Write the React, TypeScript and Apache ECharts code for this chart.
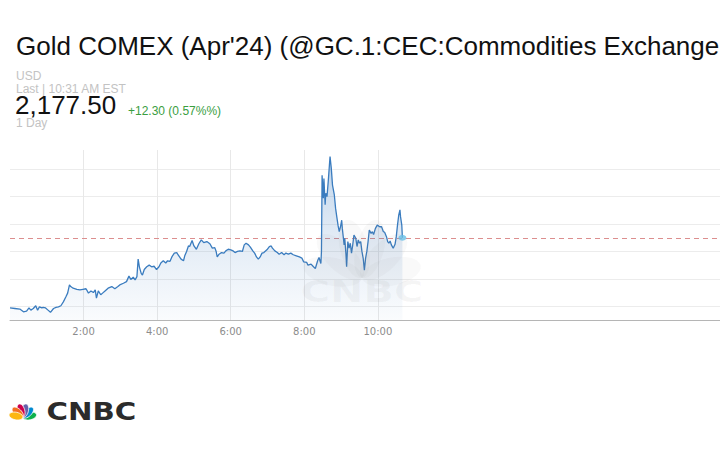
import React, { useEffect, useRef } from "react";
import * as echarts from "echarts";

// ---- header texts ----
const titleText = "Gold COMEX (Apr'24) (@GC.1:CEC:Commodities Exchange";
const currencyText = "USD";
const lastText = "Last | 10:31 AM EST";
const priceText = "2,177.50";
const changeText = "+12.30 (0.57%%)";
const rangeText = "1 Day";

// ---- data: minutes after midnight and price ----
const minutes = [
  0, 8, 16, 22, 27, 31, 34, 38, 42, 45,
  48, 52, 54, 58, 62, 66, 71, 75, 79, 83,
  87, 91, 94, 97, 99, 103, 109, 114, 119, 124,
  128, 132, 136, 139, 141, 144, 148, 151, 155, 160,
  166, 171, 176, 179, 185, 190, 194, 197, 201, 204,
  207, 209, 211, 214, 216, 219, 223, 227, 231, 235,
  239, 243, 246, 250, 254, 257, 261, 264, 268, 272,
  274, 279, 283, 285, 288, 291, 293, 297, 300, 304,
  308, 312, 316, 321, 326, 330, 334, 336, 338, 341,
  345, 349, 352, 356, 360, 364, 367, 371, 375, 379,
  382, 385, 389, 392, 396, 399, 402, 405, 408, 411,
  414, 419, 423, 426, 428, 432, 436, 439, 443, 447,
  450, 454, 458, 462, 467, 472, 476, 479, 484, 486,
  491, 495, 498, 502, 504, 507, 508, 509, 511, 512,
  514, 515, 517, 519, 521, 522, 524, 526, 529, 531,
  533, 535, 537, 539, 541, 542, 545, 546, 548, 549,
  551, 553, 555, 557, 559, 561, 564, 566, 568, 570,
  572, 574, 576, 578, 580, 582, 584, 586, 589, 591,
  593, 596, 599, 603, 606, 609, 611, 614, 616, 618,
  620, 622, 625, 628, 630, 632, 634, 636, 637, 639,
  640,
];

const prices = [
  2164.7, 2164.6, 2164.5, 2164.0, 2164.1, 2164.7, 2164.3, 2164.6, 2165.1, 2164.3,
  2164.9, 2164.7, 2164.8, 2164.7, 2164.3, 2163.9, 2164.6, 2164.8, 2164.9, 2165.1,
  2165.8, 2166.7, 2167.4, 2168.9, 2168.6, 2168.3, 2168.1, 2168.0, 2168.1, 2168.2,
  2167.4, 2167.8, 2167.5, 2168.0, 2166.5, 2167.8, 2167.1, 2167.4, 2167.8, 2168.3,
  2168.6, 2168.2, 2168.6, 2168.9, 2169.2, 2169.5, 2170.5, 2169.9, 2170.3, 2169.8,
  2170.4, 2173.6, 2172.2, 2171.0, 2170.7, 2171.7, 2172.2, 2172.5, 2172.2, 2172.3,
  2171.7, 2172.2, 2172.9, 2173.3, 2172.9, 2173.3, 2173.2, 2174.0, 2174.7, 2174.8,
  2174.4, 2173.6, 2173.3, 2174.2, 2175.0, 2176.0, 2175.9, 2177.0, 2176.0, 2175.4,
  2176.4, 2177.1, 2176.6, 2176.8, 2176.4, 2175.6, 2175.7, 2175.1, 2174.0, 2174.5,
  2174.8, 2174.7, 2175.1, 2175.4, 2175.3, 2175.1, 2174.8, 2175.0, 2175.1, 2175.0,
  2176.2, 2176.5, 2176.2, 2175.8, 2175.1, 2174.7, 2174.0, 2173.6, 2174.0, 2174.7,
  2174.8, 2175.3, 2175.9, 2176.0, 2175.6, 2175.1, 2174.8, 2174.5, 2174.8, 2174.4,
  2174.7, 2174.5, 2174.7, 2174.4, 2174.2, 2174.0, 2173.8, 2173.1, 2173.0, 2172.5,
  2172.7, 2172.2, 2171.9, 2173.4, 2173.9, 2172.8, 2175.0, 2188.9, 2184.7, 2188.3,
  2183.5, 2185.6, 2185.0, 2187.7, 2190.8, 2192.3, 2190.2, 2187.1, 2185.3, 2182.9,
  2181.3, 2179.8, 2178.6, 2179.5, 2180.7, 2179.2, 2176.2, 2177.4, 2174.4, 2172.2,
  2176.8, 2175.6, 2176.5, 2174.7, 2176.2, 2178.0, 2177.4, 2175.9, 2177.1, 2176.5,
  2176.8, 2175.0, 2173.8, 2171.6, 2173.8, 2175.0, 2176.8, 2178.9, 2178.3, 2178.6,
  2178.1, 2179.2, 2179.8, 2179.5, 2179.5, 2178.6, 2178.5, 2177.7, 2176.8, 2176.5,
  2176.9, 2176.2, 2175.6, 2176.3, 2177.7, 2179.8, 2181.6, 2182.6, 2181.3, 2179.8,
  2177.5,
];

const lastPrice = 2177.5;
const xAxisMin = 0;
const xAxisMax = 1158; // full visible day span in minutes
const labelAxisMax = 600; // ticks shown up to 10:00
const labelInterval = 120;
const yMin = 2162.5;
const yMax = 2193.5;

// CNBC peacock feathers
const featherColors = ["#0db14b", "#0089d0", "#6460aa", "#cc004c", "#f37021", "#fcb711"];
const featherAngles = [12, 44, 75, 105, 136, 168];

function featherPoints(cx: number, cy: number, angleDeg: number, d: number, rx: number, ry: number) {
  const th = (angleDeg * Math.PI) / 180;
  const pts: number[][] = [];
  const n = 28;
  for (let k = 0; k < n; k++) {
    const t = (2 * Math.PI * k) / n;
    const lx = d + rx * Math.cos(t);
    const ly = ry * Math.sin(t);
    pts.push([cx + lx * Math.cos(th) - ly * Math.sin(th), cy - (lx * Math.sin(th) + ly * Math.cos(th))]);
  }
  return pts;
}

function peacock(cx: number, cy: number, d: number, rx: number, ry: number, fills: string[], stroke: string | null, z: number) {
  return featherAngles.map((a, i) => ({
    type: "polygon",
    z,
    silent: true,
    shape: { points: featherPoints(cx, cy, a, d, rx, ry) },
    style: stroke ? { fill: fills[i], stroke, lineWidth: 0.8 } : { fill: fills[i] },
  }));
}

function headerText(text: string, x: number, y: number, size: number, fill: string, z = 10) {
  return {
    type: "text",
    x,
    y,
    z,
    silent: true,
    style: {
      text,
      fill,
      font: `normal ${size}px "Liberation Sans", Arial, Helvetica, sans-serif`,
      align: "left",
      verticalAlign: "middle",
      textAlign: "left",
      textVerticalAlign: "middle",
    },
  };
}

export default function App() {
  const ref = useRef<HTMLDivElement>(null);

  useEffect(() => {
    if (!ref.current) return;
    const chart = echarts.init(ref.current, null, { renderer: "svg" });
    const seriesData = minutes.map((m, i) => [m, prices[i]]);
    const lastIdx = minutes.length - 1;
    const wmFill = Array(6).fill("rgba(110,110,110,0.045)");

    const baseGraphics: any[] = [
      headerText(titleText, 16, 46, 26, "#111111"),
      headerText(currencyText, 16, 76, 12, "#c3c3c3"),
      headerText(lastText, 16, 88.7, 12, "#c3c3c3"),
      headerText(priceText, 15, 105, 26, "#111111"),
      headerText(changeText, 128, 110.8, 12, "#3a9e3f"),
      headerText(rangeText, 16, 122.5, 12, "#c3c3c3"),
      // watermark
      ...peacock(362, 278, 30, 30, 14, wmFill, null, 5),
      {
        type: "text",
        x: 362,
        y: 291,
        z: 5,
        scaleX: 1.33,
        silent: true,
        style: {
          text: "CNBC",
          fill: "rgba(110,110,110,0.06)",
          font: 'bold 30px "DejaVu Sans", sans-serif',
          align: "center",
          verticalAlign: "middle",
          textAlign: "center",
          textVerticalAlign: "middle",
        },
      },
      // logo
      ...peacock(22.8, 417.5, 7, 7, 3.8, featherColors, "#ffffff", 10),
      {
        type: "text",
        x: 46.5,
        y: 411,
        z: 10,
        scaleX: 1.22,
        silent: true,
        style: {
          text: "CNBC",
          fill: "#2b2b2b",
          font: 'bold 24px "DejaVu Sans", sans-serif',
          align: "left",
          verticalAlign: "middle",
          textAlign: "left",
          textVerticalAlign: "middle",
        },
      },
    ];

    const option: any = {
      animation: false,
      backgroundColor: "#ffffff",
      grid: [
        { left: 10, right: 0, top: 150, bottom: 130, containLabel: false },
        {
          left: 10,
          top: 150,
          bottom: 130,
          width: (710 * (labelAxisMax - xAxisMin)) / (xAxisMax - xAxisMin),
          containLabel: false,
        },
      ],
      xAxis: [
        {
          type: "value",
          gridIndex: 0,
          min: xAxisMin,
          max: xAxisMax,
          axisLine: { show: true, lineStyle: { color: "#b5b5b5", width: 1 } },
          axisTick: { show: false },
          axisLabel: { show: false },
          splitLine: { show: false },
        },
        {
          type: "value",
          gridIndex: 1,
          min: xAxisMin,
          max: labelAxisMax,
          interval: labelInterval,
          axisLine: { show: false },
          axisTick: { show: false },
          axisLabel: {
            show: true,
            showMinLabel: false,
            margin: 6,
            color: "#8c8c8c",
            fontSize: 10,
            fontFamily: '"DejaVu Sans", Verdana, sans-serif',
            formatter: (v: number) => `${v / 60}:00`,
          },
          splitLine: {
            show: true,
            showMinLine: false,
            lineStyle: { color: "#e8e8e8", width: 1 },
          },
        },
      ],
      yAxis: [
        {
          type: "value",
          gridIndex: 0,
          min: yMin,
          max: yMax,
          splitNumber: 6,
          axisLine: { show: false },
          axisTick: { show: false },
          axisLabel: { show: false },
          splitLine: {
            show: true,
            showMinLine: false,
            showMaxLine: false,
            lineStyle: { color: "#ececec", width: 1 },
          },
        },
        {
          type: "value",
          gridIndex: 1,
          min: yMin,
          max: yMax,
          show: false,
          splitLine: { show: false },
        },
      ],
      series: [
        {
          type: "line",
          xAxisIndex: 0,
          yAxisIndex: 0,
          data: seriesData,
          showSymbol: false,
          symbol: "none",
          z: 3,
          lineStyle: { color: "#3a7cbf", width: 1.3 },
          areaStyle: {
            color: new echarts.graphic.LinearGradient(0, 0, 0, 1, [
              { offset: 0, color: "rgba(70,130,195,0.5)" },
              { offset: 0.45, color: "rgba(70,130,195,0.24)" },
              { offset: 1, color: "rgba(70,130,195,0.04)" },
            ]),
          },
        },
        {
          type: "scatter",
          xAxisIndex: 0,
          yAxisIndex: 0,
          z: 4,
          symbol: "circle",
          symbolSize: [8, 6],
          itemStyle: { color: "#6cc4ee" },
          data: [[minutes[lastIdx], prices[lastIdx]]],
        },
      ],
      graphic: baseGraphics,
    };

    chart.setOption(option);

    // dashed last-price line, positioned through the y axis scale
    const yPix = Math.round(chart.convertToPixel({ yAxisIndex: 0 }, lastPrice) as number) + 0.5;
    const x0 = chart.convertToPixel({ xAxisIndex: 0 }, xAxisMin) as number;
    const x1 = chart.convertToPixel({ xAxisIndex: 0 }, xAxisMax) as number;
    chart.setOption({
      graphic: [
        ...baseGraphics,
        {
          type: "line",
          z: 1,
          silent: true,
          shape: { x1: x0, y1: yPix, x2: x1, y2: yPix },
          style: { stroke: "#dc8e8e", lineWidth: 1, lineDash: [5, 4] },
        },
      ],
    });

    return () => chart.dispose();
  }, []);

  return (
    <div
      ref={ref}
      style={{ position: "fixed", left: 0, top: 0, width: 720, height: 450, background: "#fff" }}
    />
  );
}
